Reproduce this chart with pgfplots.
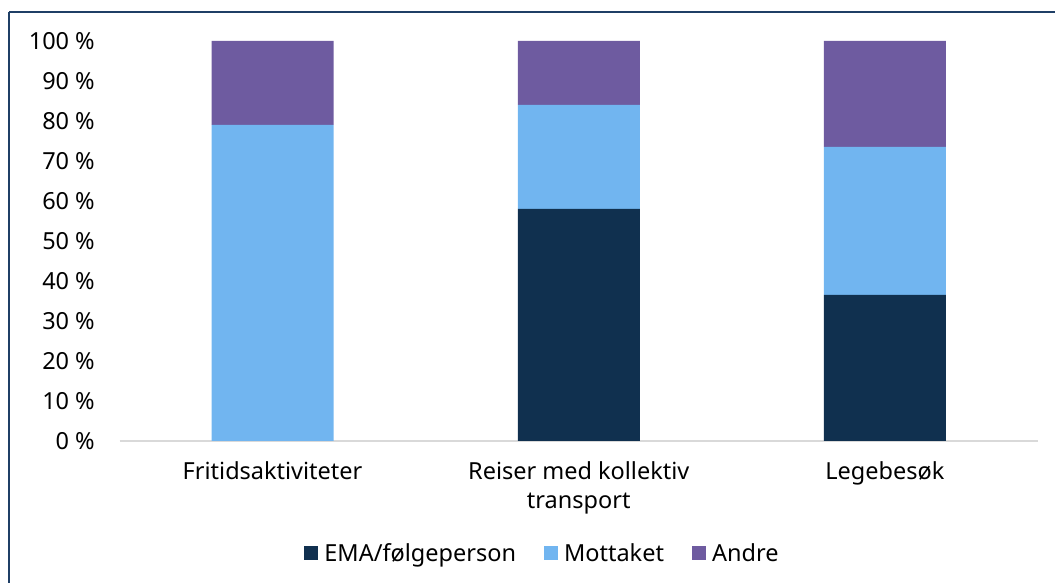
\documentclass[border=0pt]{standalone}
\usepackage{pgfplots}
\pgfplotsset{compat=1.18}
\usepackage{fontspec}
\setmainfont{Noto Sans}
\definecolor{ema}{HTML}{10304F}
\definecolor{mott}{HTML}{71B5F0}
\definecolor{andre}{HTML}{6E5BA0}
\definecolor{frame}{HTML}{1F3F66}
\definecolor{axgray}{HTML}{D9D9D9}
\begin{document}
\begin{tikzpicture}
\useasboundingbox (0pt,0pt) rectangle (1055pt,583pt);
\begin{scope}
\clip (0pt,0pt) rectangle (1055pt,583pt);
\draw[frame, line width=1.8pt] (9pt,571pt) -- (1070pt,571pt);
\draw[frame, line width=1.8pt] (9pt,571pt) -- (9pt,-10pt);
\end{scope}
\begin{axis}[
  at={(119.5pt,142pt)}, anchor=south west,
  scale only axis, width=918.5pt, height=400pt,
  ybar stacked, bar width=122pt,
  xmin=-0.5, xmax=2.5, ymin=0, ymax=100,
  xtick={0,1,2},
  xticklabels={Fritidsaktiviteter,{Reiser med kollektiv\\transport},Legebesøk},
  ytick={0,10,...,100},
  yticklabel={\pgfmathprintnumber{\tick}\ \%},
  /pgf/number format/assume math mode=true,
  font=\fontsize{23.5}{29}\selectfont,
  x tick label style={align=center, anchor=north, inner sep=0pt, yshift=-20pt, font=\fontsize{23.5}{29}\selectfont},
  y tick label style={anchor=east, inner sep=0pt, xshift=-24.5pt, font=\fontsize{23.5}{29}\selectfont},
  major tick length=0pt,
  axis x line*=bottom, axis y line*=left,
  y axis line style={draw=none},
  x axis line style={draw=none},
  clip=false,
  legend style={at={(0.4605,-0.28)}, anchor=center, draw=none, fill=none,
    legend columns=3, font=\fontsize{23.5}{29}\selectfont,
    /tikz/every odd column/.append style={column sep=4pt},
    /tikz/every even column/.append style={column sep=26pt}},
  legend cell align=left,
  legend image code/.code={\fill[#1] (0pt,-7pt) rectangle (14pt,7pt);},
]
\addplot[fill=ema, draw=none] coordinates {(0,0) (1,58) (2,36.5)};
\addplot[fill=mott, draw=none] coordinates {(0,79) (1,26) (2,37)};
\addplot[fill=andre, draw=none] coordinates {(0,21) (1,16) (2,26.5)};
\legend{EMA/følgeperson, Mottaket, Andre}
\draw[axgray, line width=1.6pt] (rel axis cs:0,0) -- (rel axis cs:1,0);
\end{axis}
\end{tikzpicture}
\end{document}
